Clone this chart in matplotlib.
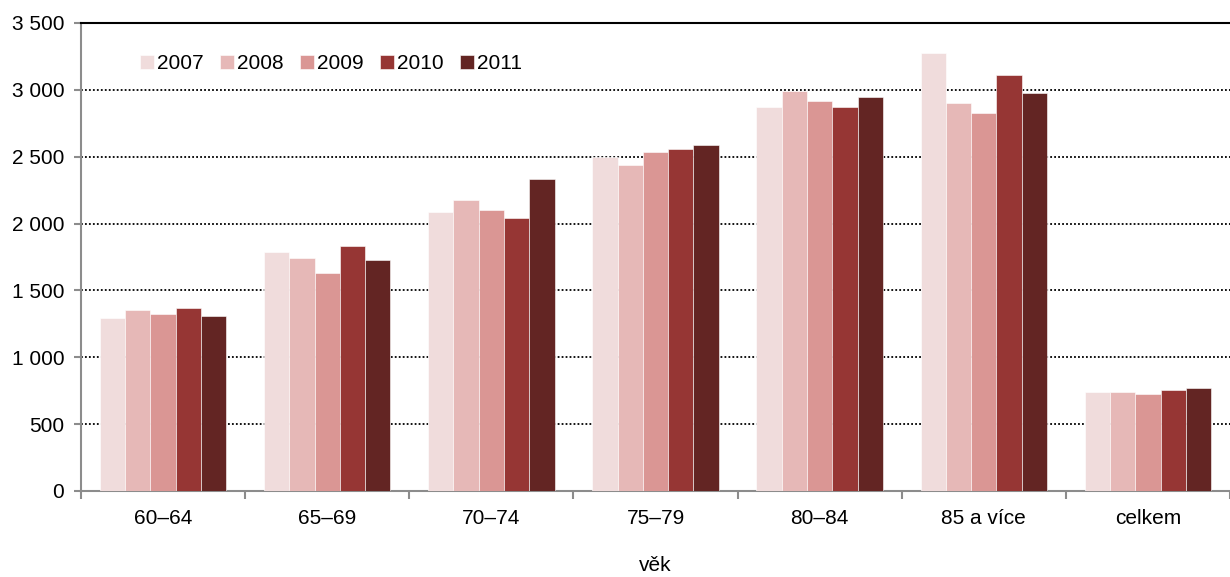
import numpy as np
import matplotlib.pyplot as plt
from matplotlib.ticker import FuncFormatter

plt.rcParams['font.family'] = ['Liberation Sans', 'DejaVu Sans']

# Data
categories = ['60–64', '65–69', '70–74', '75–79', '80–84', '85 a více', 'celkem']
years = ['2007', '2008', '2009', '2010', '2011']
v2007 = [1293, 1784, 2083, 2500, 2870, 3274, 740]
v2008 = [1350, 1739, 2173, 2439, 2990, 2902, 740]
v2009 = [1321, 1634, 2098, 2534, 2915, 2828, 725]
v2010 = [1365, 1831, 2038, 2556, 2872, 3109, 755]
v2011 = [1306, 1724, 2334, 2586, 2947, 2977, 770]
series = [v2007, v2008, v2009, v2010, v2011]
colors = ['#F0DCDC', '#E6B8B7', '#DA9694', '#963634', '#632523']

fs = 15

fig = plt.figure(figsize=(12.3, 5.77), dpi=100)
ax = fig.add_axes([81 / 1230, 1 - 491 / 577, 1149 / 1230, 468 / 577])

x = np.arange(len(categories))
w = 0.154
for i, (vals, c) in enumerate(zip(series, colors)):
    ax.bar(x + (i - 2) * w, vals, width=w, color=c, edgecolor='white',
           linewidth=0.4, label=years[i], zorder=3)

ax.set_xlim(-0.5, len(categories) - 0.5)
ax.set_ylim(0, 3500)
ax.set_yticks(np.arange(0, 3501, 500))
ax.yaxis.set_major_formatter(FuncFormatter(lambda v, p: f'{int(v):,}'.replace(',', ' ')))
ax.grid(axis='y', color='black', linestyle=(0, (1, 1.2)), linewidth=1.3, zorder=1)

# category ticks between groups
ax.set_xticks(x)
ax.set_xticklabels(categories)
ax.set_xticks(np.arange(-0.5, len(categories)), minor=True)
ax.tick_params(axis='x', which='major', length=0, pad=13, labelsize=fs)
ax.tick_params(axis='x', which='minor', length=6, width=1.5, color='#8C8C8C')
ax.tick_params(axis='y', length=5, width=1.5, color='#8C8C8C', labelsize=fs, pad=7)

for s in ['left', 'bottom']:
    ax.spines[s].set_color('#8C8C8C')
    ax.spines[s].set_linewidth(1.5)
ax.spines['right'].set_visible(False)
ax.spines['top'].set_color('black')
ax.spines['top'].set_linewidth(1.5)

ax.set_xlabel('věk', fontsize=fs, labelpad=20)

ax.legend(loc='upper left', bbox_to_anchor=(0.039, 0.965), ncol=5, frameon=False,
          fontsize=fs, handlelength=0.65, handleheight=0.65, handletextpad=0.15,
          columnspacing=0.8, borderpad=0.2)

plt.savefig('out.png', dpi=100)
